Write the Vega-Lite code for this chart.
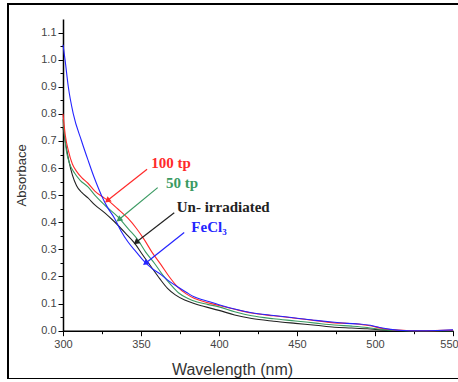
{
  "$schema": "https://vega.github.io/schema/vega-lite/v6.json",
  "width": 456,
  "height": 375,
  "autosize": {"type": "none"},
  "padding": {"left": 8, "top": 4, "right": 0, "bottom": 0},
  "background": "white",
  "config": {
    "view": {"stroke": "#000000", "strokeWidth": 2, "fill": "white"},
    "axis": {
      "labelFont": "Liberation Sans", "labelFontSize": 11, "labelColor": "#444444",
      "titleFont": "Liberation Sans", "titleFontWeight": "normal", "titleColor": "#333333",
      "domainColor": "#000000", "domainWidth": 1.5, "tickColor": "#000000", "tickWidth": 1,
      "grid": false, "labelOverlap": false
    }
  },
  "resolve": {"axis": {"y": "independent"}},
  "datasets": {
    "curves": [
      {"series": "Un-irradiated", "wl": 300, "abs": 0.75},
      {"series": "Un-irradiated", "wl": 302, "abs": 0.68},
      {"series": "Un-irradiated", "wl": 304, "abs": 0.62},
      {"series": "Un-irradiated", "wl": 306, "abs": 0.575},
      {"series": "Un-irradiated", "wl": 308.7, "abs": 0.535},
      {"series": "Un-irradiated", "wl": 312, "abs": 0.51},
      {"series": "Un-irradiated", "wl": 316, "abs": 0.49},
      {"series": "Un-irradiated", "wl": 320.4, "abs": 0.464},
      {"series": "Un-irradiated", "wl": 326.8, "abs": 0.435},
      {"series": "Un-irradiated", "wl": 333, "abs": 0.402},
      {"series": "Un-irradiated", "wl": 340, "abs": 0.36},
      {"series": "Un-irradiated", "wl": 346, "abs": 0.322},
      {"series": "Un-irradiated", "wl": 351, "abs": 0.28},
      {"series": "Un-irradiated", "wl": 356.5, "abs": 0.236},
      {"series": "Un-irradiated", "wl": 362, "abs": 0.192},
      {"series": "Un-irradiated", "wl": 367, "abs": 0.156},
      {"series": "Un-irradiated", "wl": 372, "abs": 0.132},
      {"series": "Un-irradiated", "wl": 378, "abs": 0.113},
      {"series": "Un-irradiated", "wl": 384, "abs": 0.1},
      {"series": "Un-irradiated", "wl": 390, "abs": 0.09},
      {"series": "Un-irradiated", "wl": 400, "abs": 0.075},
      {"series": "Un-irradiated", "wl": 410, "abs": 0.058},
      {"series": "Un-irradiated", "wl": 421, "abs": 0.045},
      {"series": "Un-irradiated", "wl": 435, "abs": 0.035},
      {"series": "Un-irradiated", "wl": 449, "abs": 0.027},
      {"series": "Un-irradiated", "wl": 462, "abs": 0.02},
      {"series": "Un-irradiated", "wl": 474, "abs": 0.013},
      {"series": "Un-irradiated", "wl": 485, "abs": 0.01},
      {"series": "Un-irradiated", "wl": 495, "abs": 0.007},
      {"series": "Un-irradiated", "wl": 502, "abs": 0.004},
      {"series": "Un-irradiated", "wl": 510, "abs": 0.001},
      {"series": "Un-irradiated", "wl": 520, "abs": 0},
      {"series": "Un-irradiated", "wl": 535, "abs": 0},
      {"series": "Un-irradiated", "wl": 550, "abs": 0},

      {"series": "50 tp", "wl": 300, "abs": 0.78},
      {"series": "50 tp", "wl": 302.3, "abs": 0.66},
      {"series": "50 tp", "wl": 304, "abs": 0.62},
      {"series": "50 tp", "wl": 307.6, "abs": 0.58},
      {"series": "50 tp", "wl": 311, "abs": 0.555},
      {"series": "50 tp", "wl": 316, "abs": 0.531},
      {"series": "50 tp", "wl": 320.4, "abs": 0.5},
      {"series": "50 tp", "wl": 327, "abs": 0.462},
      {"series": "50 tp", "wl": 335.2, "abs": 0.42},
      {"series": "50 tp", "wl": 342, "abs": 0.375},
      {"series": "50 tp", "wl": 348, "abs": 0.335},
      {"series": "50 tp", "wl": 353, "abs": 0.29},
      {"series": "50 tp", "wl": 358.6, "abs": 0.249},
      {"series": "50 tp", "wl": 364, "abs": 0.205},
      {"series": "50 tp", "wl": 369.2, "abs": 0.169},
      {"series": "50 tp", "wl": 374, "abs": 0.14},
      {"series": "50 tp", "wl": 379.8, "abs": 0.12},
      {"series": "50 tp", "wl": 386, "abs": 0.106},
      {"series": "50 tp", "wl": 392.6, "abs": 0.097},
      {"series": "50 tp", "wl": 400, "abs": 0.088},
      {"series": "50 tp", "wl": 410, "abs": 0.07},
      {"series": "50 tp", "wl": 421, "abs": 0.055},
      {"series": "50 tp", "wl": 435, "abs": 0.044},
      {"series": "50 tp", "wl": 449, "abs": 0.036},
      {"series": "50 tp", "wl": 462, "abs": 0.028},
      {"series": "50 tp", "wl": 474, "abs": 0.021},
      {"series": "50 tp", "wl": 485, "abs": 0.017},
      {"series": "50 tp", "wl": 495, "abs": 0.012},
      {"series": "50 tp", "wl": 505, "abs": 0.004},
      {"series": "50 tp", "wl": 515, "abs": 0.001},
      {"series": "50 tp", "wl": 525, "abs": 0},
      {"series": "50 tp", "wl": 550, "abs": 0},

      {"series": "100 tp", "wl": 300, "abs": 0.8},
      {"series": "100 tp", "wl": 301.5, "abs": 0.72},
      {"series": "100 tp", "wl": 303.4, "abs": 0.665},
      {"series": "100 tp", "wl": 306, "abs": 0.615},
      {"series": "100 tp", "wl": 308.7, "abs": 0.588},
      {"series": "100 tp", "wl": 312, "abs": 0.565},
      {"series": "100 tp", "wl": 316, "abs": 0.544},
      {"series": "100 tp", "wl": 320.4, "abs": 0.515},
      {"series": "100 tp", "wl": 325, "abs": 0.495},
      {"series": "100 tp", "wl": 329, "abs": 0.48},
      {"series": "100 tp", "wl": 335, "abs": 0.45},
      {"series": "100 tp", "wl": 341.6, "abs": 0.415},
      {"series": "100 tp", "wl": 347, "abs": 0.378},
      {"series": "100 tp", "wl": 352.2, "abs": 0.335},
      {"series": "100 tp", "wl": 357, "abs": 0.29},
      {"series": "100 tp", "wl": 363, "abs": 0.242},
      {"series": "100 tp", "wl": 368, "abs": 0.2},
      {"series": "100 tp", "wl": 373.4, "abs": 0.162},
      {"series": "100 tp", "wl": 379, "abs": 0.136},
      {"series": "100 tp", "wl": 384, "abs": 0.12},
      {"series": "100 tp", "wl": 390, "abs": 0.108},
      {"series": "100 tp", "wl": 395, "abs": 0.1},
      {"series": "100 tp", "wl": 400, "abs": 0.093},
      {"series": "100 tp", "wl": 410, "abs": 0.079},
      {"series": "100 tp", "wl": 421, "abs": 0.065},
      {"series": "100 tp", "wl": 435, "abs": 0.055},
      {"series": "100 tp", "wl": 449, "abs": 0.046},
      {"series": "100 tp", "wl": 462, "abs": 0.037},
      {"series": "100 tp", "wl": 474, "abs": 0.029},
      {"series": "100 tp", "wl": 482, "abs": 0.027},
      {"series": "100 tp", "wl": 490, "abs": 0.024},
      {"series": "100 tp", "wl": 497, "abs": 0.018},
      {"series": "100 tp", "wl": 505, "abs": 0.008},
      {"series": "100 tp", "wl": 512, "abs": 0.003},
      {"series": "100 tp", "wl": 520, "abs": 0.001},
      {"series": "100 tp", "wl": 530, "abs": 0},
      {"series": "100 tp", "wl": 550, "abs": 0.002},

      {"series": "FeCl3", "wl": 300, "abs": 1.055},
      {"series": "FeCl3", "wl": 301.3, "abs": 1.0},
      {"series": "FeCl3", "wl": 303.4, "abs": 0.9},
      {"series": "FeCl3", "wl": 306.6, "abs": 0.8},
      {"series": "FeCl3", "wl": 311.9, "abs": 0.7},
      {"series": "FeCl3", "wl": 316, "abs": 0.63},
      {"series": "FeCl3", "wl": 320, "abs": 0.565},
      {"series": "FeCl3", "wl": 324.6, "abs": 0.5},
      {"series": "FeCl3", "wl": 328.5, "abs": 0.455},
      {"series": "FeCl3", "wl": 333, "abs": 0.415},
      {"series": "FeCl3", "wl": 337, "abs": 0.37},
      {"series": "FeCl3", "wl": 341.6, "abs": 0.328},
      {"series": "FeCl3", "wl": 347, "abs": 0.29},
      {"series": "FeCl3", "wl": 352.2, "abs": 0.255},
      {"series": "FeCl3", "wl": 357, "abs": 0.23},
      {"series": "FeCl3", "wl": 363, "abs": 0.206},
      {"series": "FeCl3", "wl": 368, "abs": 0.183},
      {"series": "FeCl3", "wl": 373.4, "abs": 0.162},
      {"series": "FeCl3", "wl": 379, "abs": 0.142},
      {"series": "FeCl3", "wl": 384, "abs": 0.125},
      {"series": "FeCl3", "wl": 390, "abs": 0.113},
      {"series": "FeCl3", "wl": 395, "abs": 0.105},
      {"series": "FeCl3", "wl": 400, "abs": 0.096},
      {"series": "FeCl3", "wl": 410, "abs": 0.08},
      {"series": "FeCl3", "wl": 421, "abs": 0.066},
      {"series": "FeCl3", "wl": 435, "abs": 0.056},
      {"series": "FeCl3", "wl": 449, "abs": 0.047},
      {"series": "FeCl3", "wl": 462, "abs": 0.038},
      {"series": "FeCl3", "wl": 474, "abs": 0.031},
      {"series": "FeCl3", "wl": 482, "abs": 0.027},
      {"series": "FeCl3", "wl": 490, "abs": 0.025},
      {"series": "FeCl3", "wl": 497, "abs": 0.02},
      {"series": "FeCl3", "wl": 503, "abs": 0.012},
      {"series": "FeCl3", "wl": 510, "abs": 0.005},
      {"series": "FeCl3", "wl": 518, "abs": 0.001},
      {"series": "FeCl3", "wl": 527, "abs": 0},
      {"series": "FeCl3", "wl": 540, "abs": 0.001},
      {"series": "FeCl3", "wl": 550, "abs": 0.003}
    ],
    "labels": [
      {"series": "100 tp", "label": "100 tp", "wl": 369.2, "abs": 0.62},
      {"series": "50 tp", "label": "50 tp", "wl": 376.3, "abs": 0.546},
      {"series": "Un-irradiated", "label": "Un- irradiated", "wl": 402.7, "abs": 0.458},
      {"series": "FeCl3", "label": "FeCl₃", "wl": 393.6, "abs": 0.384}
    ],
    "arrows": [
      {"series": "100 tp", "wl": 353.9, "abs": 0.596, "wl2": 328.9, "abs2": 0.482},
      {"series": "50 tp", "wl": 360.7, "abs": 0.528, "wl2": 336.3, "abs2": 0.412},
      {"series": "Un-irradiated", "wl": 371.3, "abs": 0.435, "wl2": 347.3, "abs2": 0.328},
      {"series": "FeCl3", "wl": 377.7, "abs": 0.362, "wl2": 353.3, "abs2": 0.251}
    ]
  },
  "layer": [
    {
      "data": {"name": "curves"},
      "mark": {"type": "line", "strokeWidth": 1.1, "interpolate": "monotone"},
      "encoding": {
        "x": {
          "field": "wl", "type": "quantitative",
          "scale": {"domain": [300, 550], "range": [55, 445], "nice": false, "zero": false},
          "axis": {
            "title": "Wavelength (nm)", "titleFontSize": 16, "titlePadding": 12, "titleX": 224,
            "offset": -48.3, "values": [300, 325, 350, 375, 400, 425, 450, 475, 500, 525, 550],
            "format": "d", "labelFlush": false, "labelPadding": 3, "labelOverlap": false,
            "labelExpr": "datum.value % 50 === 0 ? datum.label : ''",
            "labelOffset": {"condition": {"test": "datum.value === 550", "value": -4}, "value": 0},
            "tickSize": {"condition": {"test": "datum.value % 50 === 0", "value": 5}, "value": 3}
          }
        },
        "y": {
          "field": "abs", "type": "quantitative",
          "scale": {"domain": [0, 1.15], "range": [326.7, 15], "nice": false, "zero": false},
          "axis": {
            "title": "Absorbace", "titleFontSize": 13, "titlePadding": 12, "orient": "left",
            "offset": -55, "labelOverlap": false, "labelBound": false,
            "values": [0, 0.1, 0.2, 0.3, 0.4, 0.5, 0.6, 0.7, 0.8, 0.9, 1.0, 1.1],
            "format": ".1f", "labelPadding": 2, "tickSize": 5
          }
        },
        "color": {
          "field": "series", "type": "nominal", "legend": null,
          "scale": {"domain": ["Un-irradiated", "50 tp", "100 tp", "FeCl3"], "range": ["#222222", "#3a9a62", "#ff2a2a", "#2424ff"]}
        },
        "order": {"field": "wl", "type": "quantitative"}
      }
    },
    {
      "data": {"name": "arrows"},
      "mark": {"type": "rule", "strokeWidth": 1.2},
      "encoding": {
        "x": {"field": "wl", "type": "quantitative"},
        "y": {"field": "abs", "type": "quantitative", "axis": null},
        "x2": {"field": "wl2"},
        "y2": {"field": "abs2"},
        "color": {"field": "series", "type": "nominal", "legend": null}
      }
    },
    {
      "data": {"name": "arrows"},
      "mark": {"type": "point", "shape": "triangle", "filled": true, "opacity": 1, "size": 45, "angle": 232},
      "encoding": {
        "x": {"field": "wl2", "type": "quantitative"},
        "y": {"field": "abs2", "type": "quantitative", "axis": null},
        "color": {"field": "series", "type": "nominal", "legend": null}
      }
    },
    {
      "data": {"name": "labels"},
      "mark": {"type": "text", "font": "Liberation Serif", "fontWeight": "bold", "fontSize": 15, "align": "center", "baseline": "middle"},
      "encoding": {
        "x": {"field": "wl", "type": "quantitative"},
        "y": {
          "field": "abs", "type": "quantitative",
          "axis": {
            "orient": "left", "offset": -55, "title": null, "labels": false, "domain": false,
            "values": [0.05, 0.15, 0.25, 0.35, 0.45, 0.55, 0.65, 0.75, 0.85, 0.95, 1.05],
            "tickSize": 3
          }
        },
        "text": {"field": "label", "type": "nominal"},
        "color": {"field": "series", "type": "nominal", "legend": null}
      }
    }
  ]
}
